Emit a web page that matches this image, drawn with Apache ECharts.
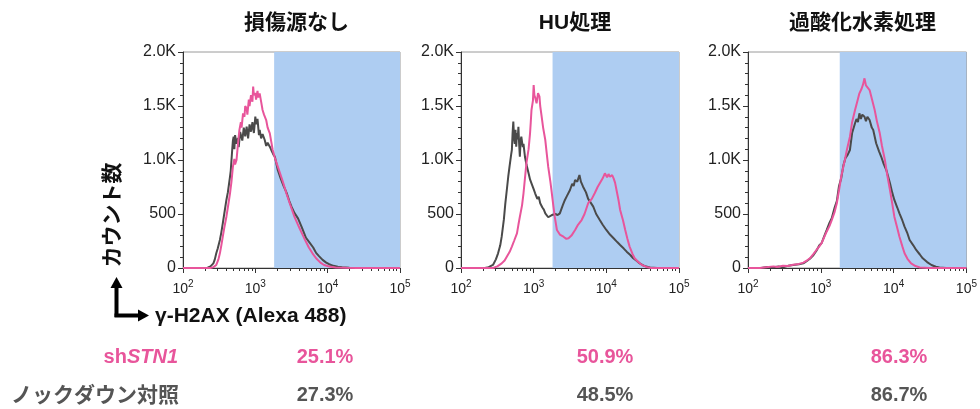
<!DOCTYPE html>
<html>
<head>
<meta charset="utf-8">
<script src="https://cdn.jsdelivr.net/npm/echarts@6/dist/echarts.min.js"></script>
<style>
  html, body { margin: 0; padding: 0; background: #fff; }
  #chart { width: 980px; height: 409px; }
</style>
</head>
<body>
<div id="chart"></div>
<script>
  // x values are log10 of fluorescence, y values are cell counts
  const panelTitles = ['損傷源なし', 'HU処理', '過酸化水素処理']
  const stnPercent = ['25.1%', '50.9%', '86.3%']
  const ctrlPercent = ['27.3%', '48.5%', '86.7%']
  const gateLog = [3.26, 3.26, 3.26]
  const xTickLabels = ['2', '3', '4', '5']
  const yTickLabels = { 0: '0', 500: '500', 1000: '1.0K', 1500: '1.5K', 2000: '2.0K' }
  const minorTicks = [
    2.301, 2.477, 2.602, 2.699, 2.778, 2.845, 2.903, 2.954,
    3.301, 3.477, 3.602, 3.699, 3.778, 3.845, 3.903, 3.954,
    4.301, 4.477, 4.602, 4.699, 4.778, 4.845, 4.903, 4.954
  ]

  const p1Ctrl = [[2.0,0],[2.3,0],[2.34,3],[2.38,15],[2.42,43],[2.44,80],[2.46,136],[2.48,180],[2.51,260],[2.53,330],[2.55,414],[2.57,500],[2.60,630],[2.62,700],[2.65,845],[2.66,900],[2.68,1093],[2.69,1180],[2.70,1216],[2.71,1100],[2.72,1230],[2.74,1150],[2.76,1204],[2.77,1120],[2.79,1260],[2.81,1278],[2.82,1180],[2.84,1300],[2.86,1220],[2.88,1308],[2.90,1200],[2.92,1330],[2.94,1262],[2.96,1350],[2.98,1250],[3.00,1401],[3.01,1330],[3.03,1380],[3.05,1230],[3.06,1278],[3.08,1200],[3.10,1240],[3.13,1185],[3.15,1130],[3.17,1160],[3.20,1123],[3.22,1093],[3.25,1050],[3.27,1030],[3.31,907],[3.35,830],[3.39,760],[3.43,700],[3.47,620],[3.50,568],[3.54,510],[3.59,460],[3.64,380],[3.70,280],[3.75,235],[3.80,190],[3.84,140],[3.88,110],[3.93,75],[3.98,50],[4.02,35],[4.08,20],[4.14,12],[4.20,8],[4.30,3],[4.40,0],[5.0,0]]
  const p1Stn = [[2.0,0],[2.38,0],[2.42,8],[2.46,28],[2.49,80],[2.51,136],[2.53,210],[2.55,290],[2.57,370],[2.60,475],[2.62,560],[2.65,692],[2.67,800],[2.69,938],[2.71,1010],[2.72,960],[2.74,1000],[2.76,1150],[2.78,1278],[2.80,1350],[2.81,1300],[2.83,1432],[2.85,1400],[2.86,1500],[2.88,1478],[2.89,1420],[2.91,1560],[2.92,1500],[2.94,1600],[2.96,1540],[2.97,1679],[2.98,1600],[3.00,1620],[3.01,1560],[3.03,1640],[3.04,1580],[3.06,1617],[3.08,1540],[3.10,1463],[3.12,1420],[3.15,1370],[3.17,1300],[3.20,1247],[3.22,1170],[3.24,1093],[3.27,1020],[3.30,960],[3.33,900],[3.38,800],[3.43,690],[3.48,590],[3.54,475],[3.61,370],[3.68,270],[3.74,190],[3.79,136],[3.84,90],[3.90,50],[3.95,28],[4.02,14],[4.11,5],[4.25,2],[4.4,0],[5.0,0]]

  const p2Ctrl = [[2.0,0],[2.33,0],[2.38,8],[2.44,28],[2.48,80],[2.51,136],[2.54,210],[2.56,290],[2.59,450],[2.61,599],[2.63,720],[2.65,845],[2.67,950],[2.69,1050],[2.70,1093],[2.71,1250],[2.72,1355],[2.73,1200],[2.74,1150],[2.75,1280],[2.76,1123],[2.77,1250],[2.78,1190],[2.79,1308],[2.80,1150],[2.81,1030],[2.82,1180],[2.83,1216],[2.85,1120],[2.86,1150],[2.88,1030],[2.90,960],[2.93,877],[2.95,820],[2.97,784],[3.00,730],[3.02,692],[3.05,640],[3.07,660],[3.09,599],[3.12,560],[3.14,540],[3.16,506],[3.18,520],[3.20,470],[3.22,460],[3.25,490],[3.27,475],[3.30,500],[3.33,490],[3.36,506],[3.40,580],[3.43,630],[3.46,670],[3.50,722],[3.53,780],[3.55,760],[3.57,815],[3.60,800],[3.63,861],[3.65,800],[3.68,753],[3.72,700],[3.75,640],[3.78,610],[3.82,568],[3.86,500],[3.91,444],[3.95,400],[4.00,352],[4.05,310],[4.10,275],[4.15,240],[4.19,213],[4.24,180],[4.28,151],[4.33,120],[4.37,90],[4.42,65],[4.46,43],[4.52,20],[4.60,5],[4.7,0],[5.0,0]]
  const p2Stn = [[2.0,0],[2.44,0],[2.50,15],[2.56,43],[2.60,70],[2.63,105],[2.67,150],[2.70,198],[2.73,250],[2.77,321],[2.79,400],[2.81,475],[2.84,580],[2.86,692],[2.88,830],[2.90,969],[2.93,1100],[2.95,1247],[2.96,1350],[2.97,1463],[2.99,1550],[3.00,1694],[3.01,1600],[3.02,1580],[3.04,1525],[3.06,1620],[3.08,1586],[3.09,1500],[3.11,1401],[3.13,1300],[3.16,1185],[3.18,1060],[3.20,938],[3.23,800],[3.25,692],[3.27,580],[3.29,475],[3.32,352],[3.36,310],[3.41,290],[3.45,270],[3.48,275],[3.52,300],[3.57,352],[3.61,400],[3.66,444],[3.70,500],[3.75,600],[3.80,640],[3.84,692],[3.88,750],[3.91,784],[3.95,830],[3.98,877],[4.01,840],[4.03,870],[4.05,845],[4.08,860],[4.10,830],[4.12,790],[4.14,722],[4.17,620],[4.19,537],[4.23,440],[4.26,352],[4.29,270],[4.32,198],[4.36,130],[4.39,90],[4.44,55],[4.49,28],[4.55,10],[4.62,0],[5.0,0]]

  const p3Ctrl = [[2.0,0],[2.18,0],[2.26,10],[2.35,8],[2.42,15],[2.48,6],[2.55,20],[2.62,28],[2.70,35],[2.76,43],[2.80,60],[2.85,85],[2.90,120],[2.94,160],[2.98,210],[3.01,229],[3.05,300],[3.08,350],[3.12,420],[3.15,460],[3.19,560],[3.22,620],[3.25,760],[3.28,830],[3.31,950],[3.34,1020],[3.37,1050],[3.40,1093],[3.43,1250],[3.47,1340],[3.49,1380],[3.51,1350],[3.53,1432],[3.55,1380],[3.57,1420],[3.60,1401],[3.62,1360],[3.64,1400],[3.67,1370],[3.70,1300],[3.72,1278],[3.76,1155],[3.80,1080],[3.83,1030],[3.86,970],[3.90,907],[3.95,784],[3.98,700],[4.01,630],[4.05,560],[4.08,506],[4.12,440],[4.15,383],[4.19,320],[4.22,259],[4.27,210],[4.31,167],[4.36,125],[4.40,90],[4.46,55],[4.52,28],[4.58,12],[4.63,5],[4.72,0],[5.0,0]]
  const p3Stn = [[2.0,0],[2.16,0],[2.25,8],[2.35,15],[2.40,10],[2.48,20],[2.55,18],[2.62,30],[2.70,38],[2.76,50],[2.80,65],[2.85,90],[2.90,130],[2.94,167],[2.98,200],[3.01,229],[3.05,290],[3.08,336],[3.12,390],[3.15,444],[3.19,520],[3.22,599],[3.25,720],[3.28,845],[3.31,940],[3.33,1000],[3.36,1100],[3.40,1216],[3.43,1350],[3.47,1463],[3.50,1540],[3.53,1617],[3.56,1660],[3.58,1700],[3.60,1756],[3.62,1690],[3.64,1680],[3.67,1648],[3.70,1570],[3.74,1463],[3.77,1360],[3.81,1247],[3.84,1130],[3.88,1000],[3.91,870],[3.95,722],[3.98,600],[4.01,475],[4.05,370],[4.08,290],[4.12,200],[4.15,136],[4.19,85],[4.24,43],[4.30,18],[4.36,5],[4.49,0],[5.0,0]]

  const ctrlSeries = [p1Ctrl, p2Ctrl, p3Ctrl]
  const stnSeries = [p1Stn, p2Stn, p3Stn]

  const FONT = "'Liberation Sans', 'Noto Sans CJK JP', sans-serif"
  const PINK = '#e8559b'
  const GRAY = '#4a4a4a'
  const gridLefts = [183, 461, 748]
  const gridWidths = [217, 218, 219]

  const chart = echarts.init(document.getElementById('chart'))

  const grids = [], xAxes = [], yAxes = [], series = [], titles = []
  for (let i = 0; i < 3; i++) {
    grids.push({
      left: gridLefts[i], top: 52, width: gridWidths[i], height: 216,
      show: true, borderColor: '#9a9a9a', borderWidth: 1
    })
    // major ticks + labels
    xAxes.push({
      type: 'value', gridIndex: i, min: 2, max: 5, interval: 1, position: 'bottom',
      axisLine: { lineStyle: { color: '#333', width: 1 } },
      axisTick: { length: 5, lineStyle: { color: '#333' } },
      splitLine: { show: false },
      axisLabel: {
        margin: 11,
        formatter: v => '{a|10}{s|' + xTickLabels[Math.round(v) - 2] + '}',
        rich: {
          a: { fontFamily: FONT, fontSize: 14, color: '#222', lineHeight: 17, verticalAlign: 'bottom' },
          s: { fontFamily: FONT, fontSize: 10, color: '#222', lineHeight: 17, verticalAlign: 'top' }
        }
      }
    })
    // log minor ticks
    xAxes.push({
      type: 'value', gridIndex: i, min: 2, max: 5, position: 'bottom',
      axisLine: { show: false },
      axisTick: { customValues: minorTicks, length: 3, lineStyle: { color: '#333' } },
      axisLabel: { show: false },
      splitLine: { show: false }
    })
    yAxes.push({
      type: 'value', gridIndex: i, min: 0, max: 2000, interval: 500,
      axisLine: { show: true, lineStyle: { color: '#333', width: 1 } },
      axisTick: { show: true, length: 5, lineStyle: { color: '#333' } },
      minorTick: { show: true, splitNumber: 5, length: 3, lineStyle: { color: '#333' } },
      splitLine: { show: false },
      axisLabel: {
        margin: 7, fontFamily: FONT, fontSize: 16, color: '#222',
        formatter: v => yTickLabels[v]
      }
    })
    series.push({
      type: 'line', xAxisIndex: i * 2, yAxisIndex: i, data: [], z: 1, silent: true,
      markArea: {
        silent: true,
        itemStyle: { color: '#aecdf2' },
        data: [[{ xAxis: gateLog[i], yAxis: 0 }, { xAxis: 5, yAxis: 2000 }]]
      }
    })
    series.push({
      name: 'ノックダウン対照', type: 'line', xAxisIndex: i * 2, yAxisIndex: i,
      data: ctrlSeries[i], showSymbol: false, z: 3, silent: true,
      lineStyle: { color: GRAY, width: 2 }
    })
    series.push({
      name: 'shSTN1', type: 'line', xAxisIndex: i * 2, yAxisIndex: i,
      data: stnSeries[i], showSymbol: false, z: 4, silent: true,
      lineStyle: { color: PINK, width: 2 }
    })
    titles.push({
      text: panelTitles[i],
      left: gridLefts[i] + gridWidths[i] / 2, top: 8, textAlign: 'center',
      textStyle: { fontFamily: FONT, fontSize: 21, fontWeight: 'bold', color: '#111' }
    })
  }

  const labelStyle = (color, size) => ({ fontFamily: FONT, fontSize: size || 20, fontWeight: 'bold', fill: color })
  const pctX = [325, 605, 899]
  const graphics = [
    {
      type: 'text', x: 113, y: 215, rotation: Math.PI / 2,
      style: Object.assign({ text: 'カウント数', align: 'center', verticalAlign: 'middle' }, labelStyle('#111', 21))
    },
    { type: 'line', shape: { x1: 116.5, y1: 317, x2: 116.5, y2: 286 }, style: { stroke: '#000', lineWidth: 4 } },
    { type: 'polygon', shape: { points: [[116.5, 277], [110.5, 288], [122.5, 288]] }, style: { fill: '#000' } },
    { type: 'line', shape: { x1: 114.5, y1: 315.5, x2: 140, y2: 315.5 }, style: { stroke: '#000', lineWidth: 4 } },
    { type: 'polygon', shape: { points: [[149, 315.5], [138, 309.5], [138, 321.5]] }, style: { fill: '#000' } },
    {
      type: 'text', x: 155, y: 316,
      style: Object.assign({ text: 'γ-H2AX (Alexa 488)', align: 'left', verticalAlign: 'middle' }, labelStyle('#111', 21))
    },
    {
      type: 'text', x: 178, y: 357,
      style: {
        text: '{n|sh}{i|STN1}', align: 'right', verticalAlign: 'middle',
        rich: {
          n: labelStyle(PINK),
          i: Object.assign({ fontStyle: 'italic' }, labelStyle(PINK))
        }
      }
    },
    {
      type: 'text', x: 179, y: 396,
      style: Object.assign({ text: 'ノックダウン対照', align: 'right', verticalAlign: 'middle' }, labelStyle('#555', 21))
    }
  ]
  for (let i = 0; i < 3; i++) {
    graphics.push({
      type: 'text', x: pctX[i], y: 357,
      style: Object.assign({ text: stnPercent[i], align: 'center', verticalAlign: 'middle' }, labelStyle(PINK))
    })
    graphics.push({
      type: 'text', x: pctX[i], y: 395,
      style: Object.assign({ text: ctrlPercent[i], align: 'center', verticalAlign: 'middle' }, labelStyle('#555'))
    })
  }

  chart.setOption({
    animation: false,
    title: titles,
    grid: grids,
    xAxis: xAxes,
    yAxis: yAxes,
    series: series,
    graphic: graphics
  })
</script>
</body>
</html>
